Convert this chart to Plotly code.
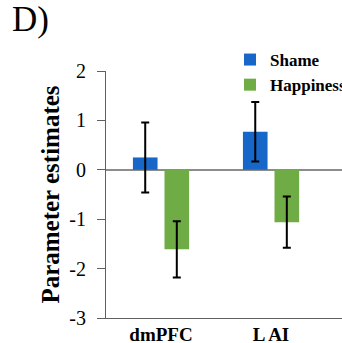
import plotly.graph_objects as go

regions = ["dmPFC", "L AI"]
shame = [0.25, 0.77]
shame_err = [0.71, 0.60]
happiness = [-1.61, -1.06]
happiness_err = [0.57, 0.52]
y_ticks = [2, 1, 0, -1, -2, -3]

SERIF = "Times New Roman"
BLUE = "#1767c8"
GREEN = "#6fac45"

fig = go.Figure()
fig.add_trace(go.Bar(
    x=regions, y=shame, name="Shame", marker=dict(color=BLUE, line=dict(width=0)),
    error_y=dict(type="data", array=shame_err, color="black", thickness=2, width=4),
))
fig.add_trace(go.Bar(
    x=regions, y=happiness, name="Happiness", marker=dict(color=GREEN, line=dict(width=0)),
    error_y=dict(type="data", array=happiness_err, color="black", thickness=2, width=4),
))

fig.update_layout(
    template="none",
    width=342, height=343,
    margin=dict(l=106, r=0, t=71, b=25, pad=0, autoexpand=False),
    paper_bgcolor="white", plot_bgcolor="white",
    barmode="group", bargap=0.426, bargroupgap=0.22,
    font=dict(family=SERIF, color="black"),
    title=dict(text="D)", x=12/342, xref="container", xanchor="left",
               y=1 - 6/343, yref="container", yanchor="top",
               font=dict(family=SERIF, size=35, color="black")),
    legend=dict(x=(230 - 106) / 236, xanchor="left", y=1 + 29/247, yanchor="top",
                bgcolor="rgba(0,0,0,0)", borderwidth=0,
                font=dict(family=SERIF, size=17, weight="bold", color="black"),
                itemclick=False),
    showlegend=True,
)
fig.update_xaxes(
    range=[-0.5, 1.645], showline=True, linecolor="#606060", linewidth=1,
    ticks="", showgrid=False, zeroline=False, ticklabelstandoff=-1,
    tickfont=dict(family=SERIF, size=19, weight="bold", color="black"),
)
fig.update_yaxes(
    range=[-3, 2], tickvals=y_ticks, ticktext=[str(v) for v in y_ticks],
    showline=True, linecolor="#606060", linewidth=1,
    ticks="outside", ticklen=8, tickcolor="#606060", tickwidth=1,
    ticklabelstandoff=7,
    showgrid=False, zeroline=True, zerolinecolor="#8c8c8c", zerolinewidth=2,
    tickfont=dict(family=SERIF, size=20, color="black"),
    title=dict(text="Parameter estimates", standoff=2,
               font=dict(family=SERIF, size=25, weight="bold", color="black")),
)

fig.write_html("out.html")
